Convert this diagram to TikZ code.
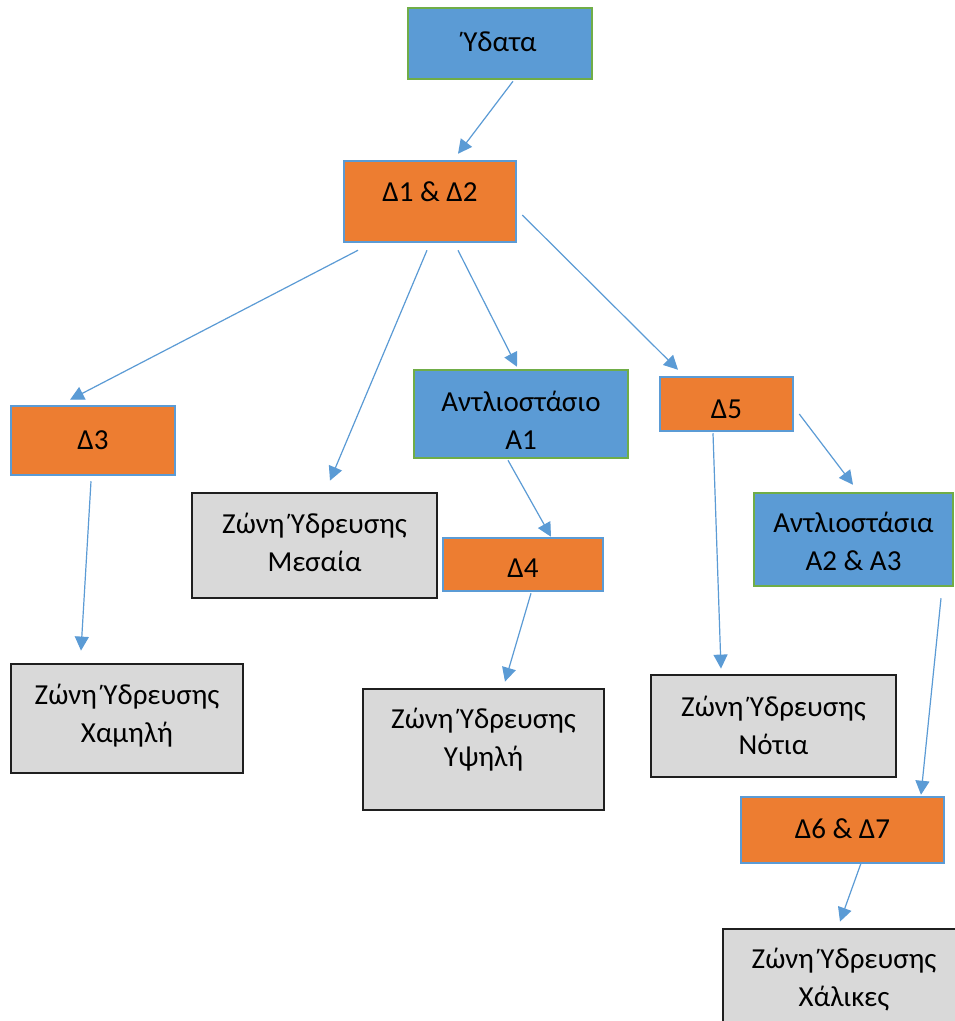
\documentclass[tikz,border=0pt]{standalone}
\usepackage{fontspec}
\setmainfont{Carlito}
\usetikzlibrary{arrows.meta,calc}
\definecolor{cblue}{HTML}{5B9BD5}
\definecolor{corange}{HTML}{ED7D31}
\definecolor{cgreen}{HTML}{70AD47}
\definecolor{cgray}{HTML}{D9D9D9}
\definecolor{cdark}{HTML}{1F1F1F}
\tikzset{
  boxbase/.style={rectangle, inner sep=0pt, line width=2.5pt},
  pump/.style={boxbase, fill=cblue, draw=cgreen},
  tank/.style={boxbase, fill=corange, draw=cblue},
  zone/.style={boxbase, fill=cgray, draw=cdark, line width=2.8pt},
  txt/.style={inner sep=0pt, align=center, font=\fontsize{29}{38}\selectfont},
  conn/.style={draw=cblue, line width=1.2pt, -{Triangle[width=14pt,length=14pt]}}
}
\begin{document}
\begin{tikzpicture}[x=1pt,y=-1pt]
\useasboundingbox (0,0) rectangle (955,1021);
\fill[white] (0,0) rectangle (955,1021);
% boxes
\node[pump, minimum width=184pt, minimum height=71pt] (yd) at (500,43.5) {};
\node[tank, minimum width=172pt, minimum height=81pt] (d1) at (430,201.5) {};
\node[tank, minimum width=164pt, minimum height=69pt] (d3) at (93,440.5) {};
\node[zone, minimum width=245pt, minimum height=105pt] (mes) at (314.5,545.5) {};
\node[pump, minimum width=214pt, minimum height=88pt] (a1) at (521,414) {};
\node[tank, minimum width=160pt, minimum height=53pt] (d4) at (523,564.5) {};
\node[zone, minimum width=241pt, minimum height=121pt] (ypsi) at (483.5,749.5) {};
\node[tank, minimum width=133pt, minimum height=54pt] (d5) at (726.5,404) {};
\node[pump, minimum width=199pt, minimum height=93pt] (a23) at (853.5,539.5) {};
\node[zone, minimum width=245pt, minimum height=102pt] (not) at (773.5,726) {};
\node[zone, minimum width=232pt, minimum height=109pt] (xam) at (127,718.5) {};
\node[tank, minimum width=203pt, minimum height=66pt] (d67) at (842.5,830) {};
\node[zone, minimum width=242pt, minimum height=111pt] (xal) at (844,984.5) {};
% texts
\node[txt] (ydt) at (500,42) {Ύδατα};
\node[txt] (d1t) at (430,192) {Δ1 \& Δ2};
\node[txt] (d3t) at (93,440) {Δ3};
\node[txt] (mest) at (314.5,542) {Ζώνη Ύδρευσης\\Μεσαία};
\node[txt] (a1t) at (521,420) {Αντλιοστάσιο\\Α1};
\node[txt] (d4t) at (523,568) {Δ4};
\node[txt] (ypsit) at (483.5,739.5) {Ζώνη Ύδρευσης\\Υψηλή};
\node[txt] (d5t) at (726.5,409) {Δ5};
\node[txt] (a23t) at (853.5,541.5) {Αντλιοστάσια\\Α2 \& Α3};
\node[txt] (nott) at (773.5,725) {Ζώνη Ύδρευσης\\Νότια};
\node[txt] (xamt) at (127,716) {Ζώνη Ύδρευσης\\Χαμηλή};
\node[txt] (d67t) at (842.5,829) {Δ6 \& Δ7};
\node[txt] (xalt) at (844,979.5) {Ζώνη Ύδρευσης\\Χάλικες};
% connectors
\draw[conn] ($(yd.south)+(13,1)$) -- ($(d1.north)+(28,-6)$);
\draw[conn] ($(d1.south)+(-72,7)$) -- ($(d3.north)+(-23,-5)$);
\draw[conn] ($(d1.south)+(-3,7)$) -- ($(mes.north)+(15.5,-11)$);
\draw[conn] ($(d1.south)+(28,7)$) -- ($(a1.north)+(-4,-2)$);
\draw[conn] ($(d1.east)+(5,13.5)$) -- ($(d5.north)+(-48.5,-6)$);
\draw[conn] ($(d3.south)+(-2,5)$) -- ($(xam.north)+(-46,-12)$);
\draw[conn] ($(a1.south)+(-13,1)$) -- ($(d4.north)+(28,0)$);
\draw[conn] ($(d4.south)+(8,1)$) -- ($(ypsi.north)+(21.5,-6)$);
\draw[conn] ($(d5.south)+(-13.5,1)$) -- ($(not.north)+(-52.5,-5)$);
\draw[conn] ($(d5.east)+(5,10)$) -- ($(a23.north)+(-0.5,-7)$);
\draw[conn] ($(a23.south)+(87.5,11)$) -- ($(d67.north)+(78.5,-1)$);
\draw[conn] ($(d67.south)+(18.5,-1)$) -- ($(xal.north)+(-4,-6)$);
\end{tikzpicture}
\end{document}
